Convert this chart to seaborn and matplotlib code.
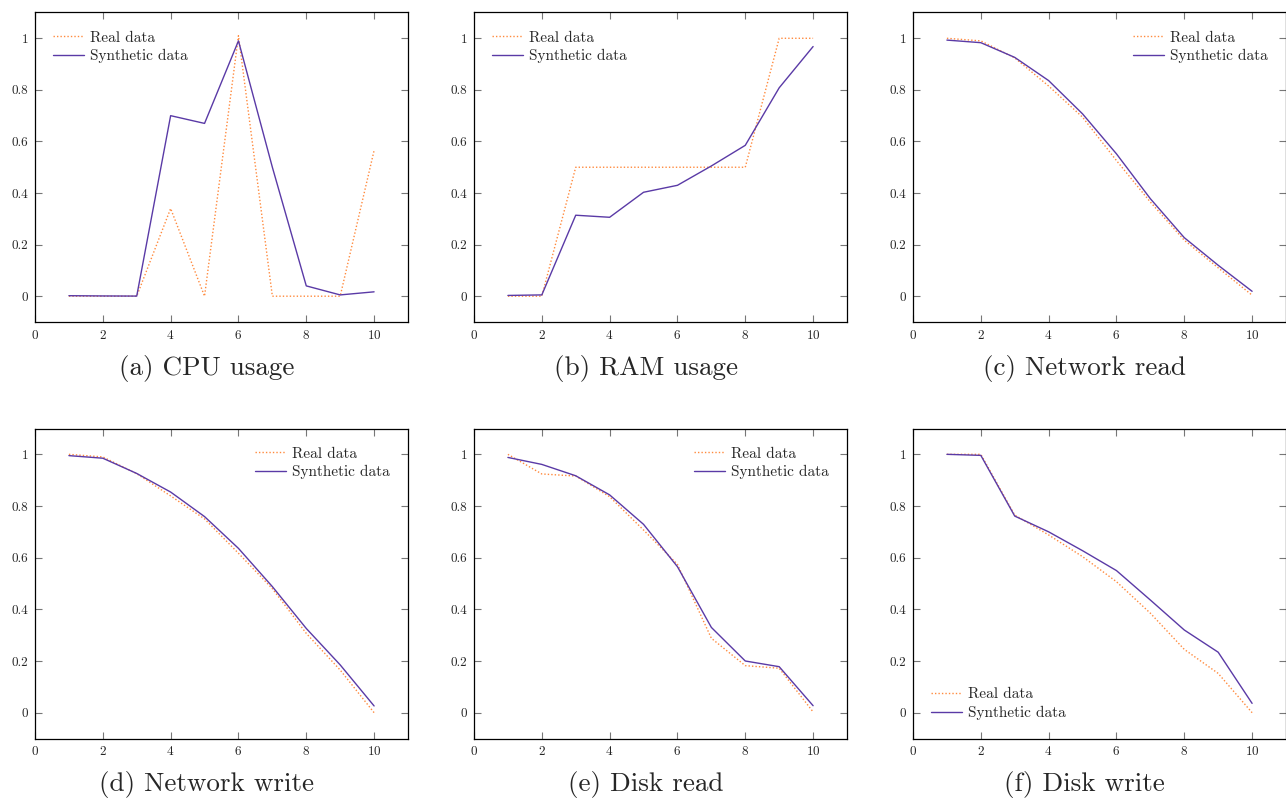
import numpy as np
import pandas as pd
import matplotlib
matplotlib.use("Agg")
import matplotlib.pyplot as plt
import seaborn as sns

steps = [1, 2, 3, 4, 5, 6, 7, 8, 9, 10]

cpu_real = [0.0, 0.0, 0.0, 0.34, 0.0, 1.01, 0.0, 0.0, 0.0, 0.565]
cpu_syn = [0.002, 0.001, 0.0005, 0.70, 0.67, 0.99, 0.50, 0.04, 0.005, 0.017]

ram_real = [0.0, 0.0, 0.5, 0.5, 0.5, 0.5, 0.5, 0.5, 1.0, 1.0]
ram_syn = [0.003, 0.005, 0.314, 0.306, 0.403, 0.43, 0.505, 0.585, 0.808, 0.968]

netr_real = [1.0, 0.99, 0.924, 0.815, 0.694, 0.526, 0.365, 0.217, 0.11, 0.004]
netr_syn = [0.993, 0.983, 0.926, 0.836, 0.707, 0.552, 0.378, 0.227, 0.12, 0.019]

netw_real = [1.0, 0.99, 0.925, 0.839, 0.75, 0.617, 0.48, 0.307, 0.165, 0.0]
netw_syn = [0.995, 0.985, 0.926, 0.854, 0.759, 0.636, 0.488, 0.326, 0.185, 0.026]

diskr_real = [1.0, 0.924, 0.916, 0.836, 0.707, 0.574, 0.288, 0.182, 0.172, 0.003]
diskr_syn = [0.988, 0.961, 0.917, 0.843, 0.729, 0.565, 0.330, 0.2, 0.178, 0.027]

diskw_real = [1.0, 1.0, 0.765, 0.688, 0.604, 0.507, 0.385, 0.245, 0.152, 0.0]
diskw_syn = [1.0, 0.996, 0.761, 0.70, 0.627, 0.55, 0.436, 0.32, 0.234, 0.036]

captions = ["(a) CPU usage", "(b) RAM usage", "(c) Network read",
            "(d) Network write", "(e) Disk read", "(f) Disk write"]
series_real = [cpu_real, ram_real, netr_real, netw_real, diskr_real, diskw_real]
series_syn = [cpu_syn, ram_syn, netr_syn, netw_syn, diskr_syn, diskw_syn]
legend_locs = ["upper left", "upper left", "upper right",
               "upper right", "upper right", "lower left"]

x_ticks = [0, 2, 4, 6, 8, 10]
y_ticks = [0, 0.2, 0.4, 0.6, 0.8, 1]
y_tick_labels = ["0", "0.2", "0.4", "0.6", "0.8", "1"]

sns.set_style("ticks")
plt.rcParams["font.family"] = ["cmr10", "DejaVu Serif"]
plt.rcParams["axes.formatter.use_mathtext"] = True
plt.rcParams["mathtext.fontset"] = "cm"

W, H = 1286, 801
fig = plt.figure(figsize=(W / 100, H / 100), dpi=100)

lefts = [35, 474, 913]
width = 373
rows = [(12.5, 322), (428.5, 738.5)]
cap_y = [369, 785]
cap_shift = -15

real_color = "#ff8a3d"
syn_color = "#5a3aa6"

for i in range(6):
    r, c = divmod(i, 3)
    top, bot = rows[r]
    ax = fig.add_axes([lefts[c] / W, 1 - bot / H, width / W, (bot - top) / H])
    df = pd.DataFrame({
        "x": steps * 2,
        "y": series_real[i] + series_syn[i],
        "kind": ["Real data"] * 10 + ["Synthetic data"] * 10,
    })
    sns.lineplot(data=df[df.kind == "Real data"], x="x", y="y", ax=ax,
                 color=real_color, linestyle=(0, (1, 1.5)), linewidth=1.0,
                 label="Real data")
    sns.lineplot(data=df[df.kind == "Synthetic data"], x="x", y="y", ax=ax,
                 color=syn_color, linewidth=1.0, label="Synthetic data")
    ax.set_xlim(0, 11)
    ax.set_ylim(-0.1, 1.1)
    ax.set_xticks(x_ticks)
    ax.set_yticks(y_ticks)
    ax.set_yticklabels(y_tick_labels)
    ax.set_xlabel("")
    ax.set_ylabel("")
    ax.tick_params(direction="in", length=5, width=0.8, color="#777777",
                   labelsize=9.5, top=True, right=True, pad=5)
    for s in ax.spines.values():
        s.set_linewidth(0.9)
        s.set_color("black")
    ax.legend(loc=legend_locs[i], frameon=False, fontsize=11,
              handlelength=2.0, handletextpad=0.4, labelspacing=0.3,
              borderaxespad=0.8)
    fig.text((lefts[c] + width / 2 + cap_shift) / W, 1 - cap_y[r] / H,
             captions[i], ha="center", va="center", fontsize=19.5)

fig.savefig("out.png", dpi=100)
